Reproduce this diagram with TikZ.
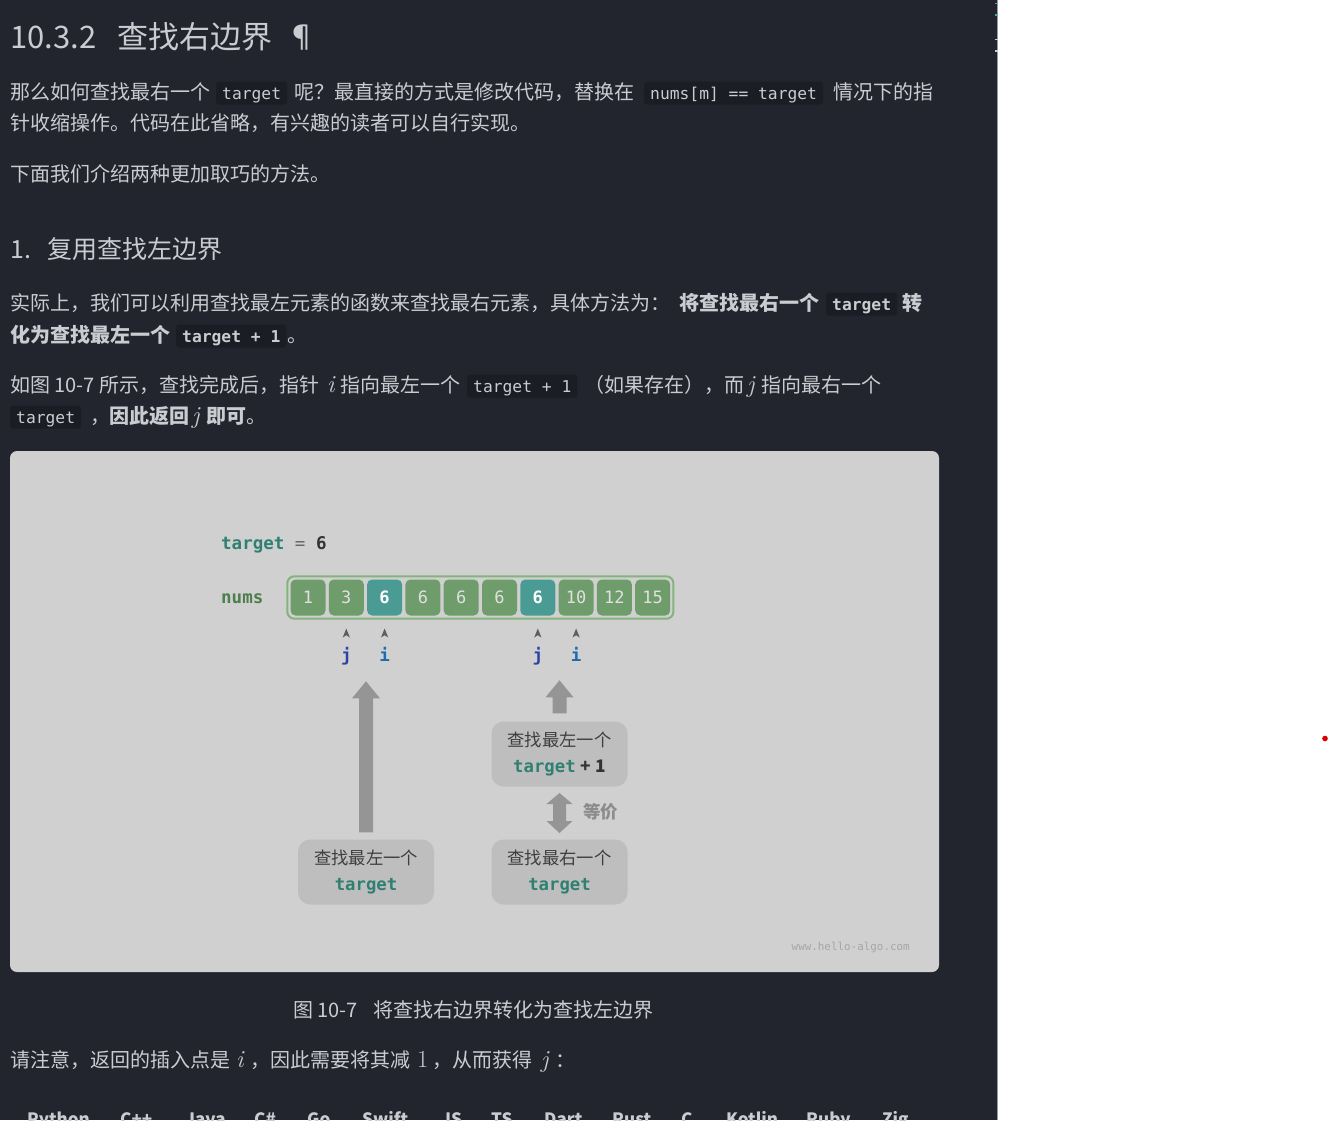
\documentclass[tikz,border=0pt]{standalone}
\usepackage{fontspec}
\setmainfont{Noto Sans CJK SC}
\setmonofont{DejaVu Sans Mono}
\newfontfamily\lmrom{Latin Modern Roman}
\usetikzlibrary{calc}
\definecolor{pagebg}{HTML}{22252D}
\definecolor{txt}{HTML}{C9CCD0}
\definecolor{codebg}{HTML}{1A1D23}
\definecolor{panel}{HTML}{D0D0D0}
\definecolor{cellgreen}{HTML}{6F9C6B}
\definecolor{cellteal}{HTML}{4B9B95}
\definecolor{arrline}{HTML}{84B47D}
\definecolor{tealtxt}{HTML}{2F7F72}
\definecolor{numsgreen}{HTML}{4C7F4C}
\definecolor{jblue}{HTML}{2B43A6}
\definecolor{iblue}{HTML}{1D6CB0}
\definecolor{arrgray}{HTML}{959595}
\definecolor{boxfill}{HTML}{BEBEBE}
\definecolor{boxtxt}{HTML}{3E3E3E}
\definecolor{ptrgray}{HTML}{5E5E5E}
\definecolor{sepgray}{HTML}{9A9A9A}
\definecolor{tickteal}{HTML}{4FA89A}
\begin{document}
\begin{tikzpicture}[x=1pt,y=-1pt,
  txtn/.style={anchor=base west, inner sep=0pt, text=txt, font=\fontsize{20}{24}\selectfont},
  txtb/.style={anchor=base west, inner sep=0pt, text=txt, font=\fontsize{20}{24}\selectfont\bfseries},
  mvar/.style={anchor=base west, inner sep=0pt, text=txt, font=\fontsize{24.5}{26}\lmrom\itshape},
  mnum/.style={anchor=base west, inner sep=0pt, text=txt, font=\fontsize{24.5}{26}\lmrom},
  hA/.style={anchor=base west, inner sep=0pt, text=txt, font=\fontsize{31}{36}\selectfont},
  hB/.style={anchor=base west, inner sep=0pt, text=txt, font=\fontsize{25}{30}\selectfont},
  cbox/.style={anchor=base west, fill=codebg, rounded corners=3pt, inner xsep=6pt, inner ysep=0pt,
     text height=18pt, text depth=5pt, text=txt, font=\fontsize{16.3}{20}\ttfamily},
  cboxb/.style={cbox, font=\fontsize{16.3}{20}\ttfamily\bfseries},
  tab/.style={anchor=base west, inner sep=0pt, text=txt, font=\fontsize{17}{20}\selectfont\bfseries},
  numcell/.style={fill=cellgreen, rounded corners=5pt, minimum width=35pt, minimum height=36pt,
     inner sep=0pt, text=white!88!black, font=\fontsize{17}{20}\ttfamily},
  hcell/.style={numcell, fill=cellteal, text=white, font=\fontsize{17}{20}\ttfamily\bfseries},
  jlab/.style={anchor=base, inner sep=0pt, text=jblue, font=\fontsize{17.5}{20}\ttfamily\bfseries},
  ilab/.style={anchor=base, inner sep=0pt, text=iblue, font=\fontsize{17.5}{20}\ttfamily\bfseries},
  sbox/.style={fill=boxfill, rounded corners=12pt, minimum width=136pt, minimum height=65pt,
     inner sep=0pt, align=center, text=boxtxt, font=\fontsize{17.3}{25.5}\selectfont},
  pics/fatup/.style={code={\fill[arrgray] (-7,0) -- (-7,{-(#1-17)}) -- (-14,{-(#1-17)}) -- (0,{-#1})
     -- (14,{-(#1-17)}) -- (7,{-(#1-17)}) -- (7,0) -- cycle;}},
  pics/dblarrow/.style={code={\fill[arrgray] (0,-20) -- (13,-9) -- (6.5,-9) -- (6.5,8) -- (13,8) -- (0,20)
     -- (-13,8) -- (-6.5,8) -- (-6.5,-9) -- (-13,-9) -- cycle;}},
  pics/chev/.style={code={\fill[ptrgray] (-3.6,4.5) -- (0,-4.5) -- (3.6,4.5) -- (0,2.2) -- cycle;}}
]
\useasboundingbox (0,0) rectangle (1330,1120);
\clip (0,0) rectangle (1330,1120);
\fill[white] (0,0) rectangle (1330,1120);
\fill[pagebg] (0,0) rectangle (997,1120);
\draw[sepgray, line width=1.5pt] (997.5,0) -- (997.5,1120);
\draw[tickteal, line width=1.2pt] (995,3.3) -- (998,3.3) (995,15) -- (998,15);
\draw[txt, line width=1.2pt] (995,39.3) -- (998,39.3) (995,51) -- (998,51);
\fill[red!85!black] (1325,738.5) circle (2.8);

% heading
\node[hA] (h1a) at (10,48.5) {10.3.2};
\node[hA] (h1b) at (117,48.5) {查找右边界};
\node[hA] (h1c) at (286,48.5) {¶};

% paragraph 1
\node[txtn] (p1a) at (10,99.5) {那么如何查找最右一个};
\node[cbox] (p1b) at (216,99.5) {target};
\node[txtn] (p1c) at (294,99.5) {呢？最直接的方式是修改代码，替换在};
\node[cbox] (p1d) at (644,99.5) {nums[m] == target};
\node[txtn] (p1e) at (833,99.5) {情况下的指};
\node[txtn] (p1f) at (10,130.5) {针收缩操作。代码在此省略，有兴趣的读者可以自行实现。};

% paragraph 2
\node[txtn] (p2a) at (10,181.5) {下面我们介绍两种更加取巧的方法。};

% heading 2
\node[hB] (h2a) at (10,258.5) {1.};
\node[hB] (h2b) at (47,258.5) {复用查找左边界};

% paragraph 3
\node[txtn] (p3a) at (10,310.5) {实际上，我们可以利用查找最左元素的函数来查找最右元素，具体方法为：};
\node[txtb] (p3b) at (679,310.5) {将查找最右一个};
\node[cboxb] (p3c) at (826,310.5) {target};
\node[txtb] (p3d) at (902,310.5) {转};
\node[txtb] (p3e) at (10,342.5) {化为查找最左一个};
\node[cboxb] (p3f) at (176,342.5) {target + 1};
\node[txtn] (p3g) at (287,342.5) {。};

% paragraph 4
\node[txtn] (p4a) at (10,392.5) {如图 10-7 所示，查找完成后，指针};
\node[mvar] (p4b) at (327,392.5) {i};
\node[txtn] (p4c) at (340,392.5) {指向最左一个};
\node[cbox] (p4d) at (467,392.5) {target + 1};
\node[txtn] (p4e) at (584,392.5) {（如果存在），而};
\node[mvar] (p4f) at (747,392.5) {j};
\node[txtn] (p4g) at (761,392.5) {指向最右一个};
\node[cbox] (p4h) at (10,423.5) {target};
\node[txtn] (p4i) at (90,423.5) {，};
\node[txtb] (p4j) at (109,423.5) {因此返回};
\node[mvar] (p4k) at (192,423.5) {j};
\node[txtb] (p4l) at (206,423.5) {即可};
\node[txtn] (p4m) at (246,423.5) {。};

% figure panel
\fill[panel, rounded corners=7pt] (10,451) rectangle (939,972);

\node[anchor=base west, inner sep=0pt, font=\fontsize{17.5}{20}\ttfamily] (tgt) at (221,549)
  {\textcolor{tealtxt}{\bfseries target} \textcolor{black!60}{=} \textcolor{black!80}{\bfseries 6}};
\node[anchor=base west, inner sep=0pt, text=numsgreen, font=\fontsize{17.5}{20}\ttfamily\bfseries] (nums) at (221,603) {nums};

\foreach \v/\s [count=\k from 0] in {1/numcell,3/numcell,6/hcell,6/numcell,6/numcell,6/numcell,6/hcell,10/numcell,12/numcell,15/numcell}{
  \node[\s] (c\k) at ({308+38.3*\k},597.5) {\v};
}
\draw[arrline, line width=2pt, rounded corners=7pt] ($(c0.north west)+(-3,-3)$) rectangle ($(c9.south east)+(3,3)$);

\node[jlab] (j1) at ($(c1)+(0,63.5)$) {j};
\node[ilab] (i1) at ($(c2)+(0,63.5)$) {i};
\node[jlab] (j2) at ($(c6)+(0,63.5)$) {j};
\node[ilab] (i2) at ($(c7)+(0,63.5)$) {i};
\foreach \c in {c1,c2,c6,c7}{ \pic at ($(\c)+(0,35.5)$) {chev}; }

\node[sbox] (bL) at (366,872) {查找最左一个\\{\ttfamily\bfseries\color{tealtxt}target}};
\node[sbox] (bR) at (559.5,872) {查找最右一个\\{\ttfamily\bfseries\color{tealtxt}target}};
\node[sbox] (bT) at (559.5,754) {查找最左一个\\{\ttfamily\bfseries\color{tealtxt}target}\hspace{5pt}{\bfseries\color{black!80}+\hspace{4pt}1}};

\pic at ($(bL.north)+(0,-7)$) {fatup=151};
\pic at ($(bT.north)+(0,-8)$) {fatup=33};
\pic at ($(bT.south)!0.5!(bR.north)$) {dblarrow};
\node[anchor=west, inner sep=0pt, text=black!45, font=\fontsize{17.5}{20}\selectfont\bfseries] (eq) at (583,812) {等价};

\node[anchor=base east, inner sep=0pt, text=black!35, font=\fontsize{10.9}{12}\ttfamily] (wm) at (910,950) {www.hello-algo.com};

% caption
\node[txtn] (capa) at (293,1017.5) {图 10-7};
\node[txtn] (capb) at (373,1017.5) {将查找右边界转化为查找左边界};

% paragraph 5
\node[txtn] (p5a) at (10,1067.5) {请注意，返回的插入点是};
\node[mvar] (p5b) at (236,1067.5) {i};
\node[txtn] (p5c) at (250,1067.5) {，因此需要将其减};
\node[mnum] (p5d) at (417,1067.5) {1};
\node[txtn] (p5e) at (432,1067.5) {，从而获得};
\node[mvar] (p5f) at (541,1067.5) {j};
\node[txtn] (p5g) at (555,1067.5) {：};

% tabs (cut by the bottom edge)
\foreach \t/\x [count=\n] in {Python/27,C++/120,Java/185,C\#/254,Go/307,Swift/362,JS/441,TS/491,Dart/544,Rust/612,C/681,Kotlin/726,Ruby/806,Zig/882}{
  \node[tab] (tab\n) at (\x,1125) {\t};
}
\end{tikzpicture}
\end{document}
